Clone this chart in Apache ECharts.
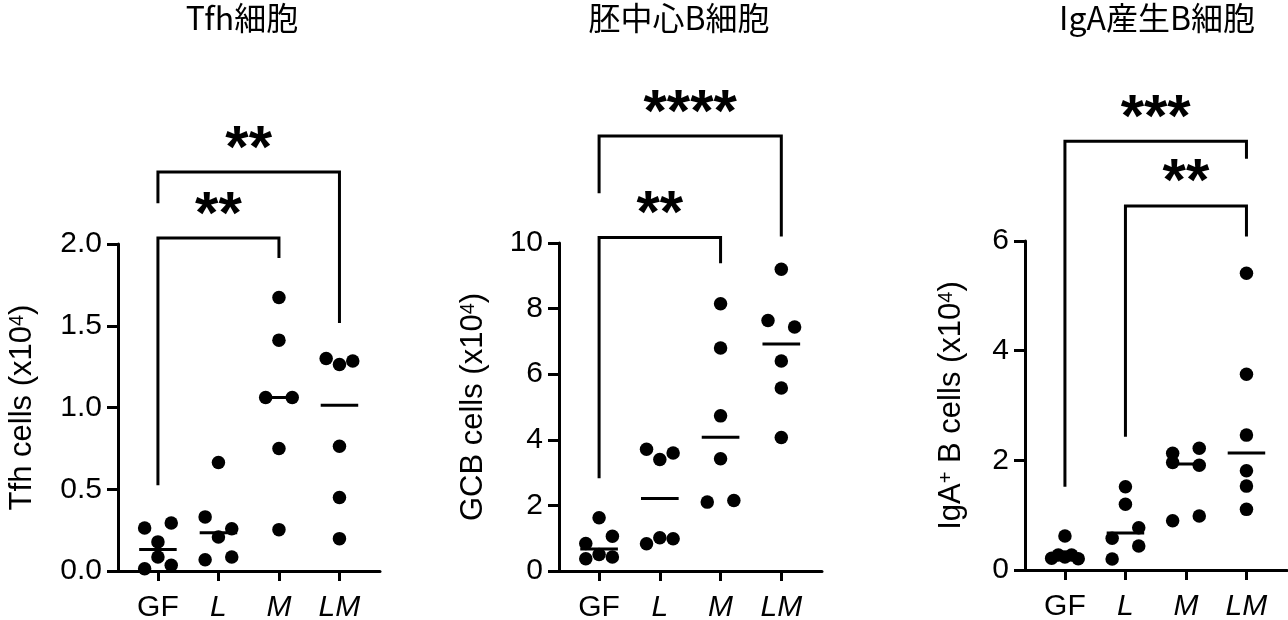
<!DOCTYPE html>
<html>
<head>
<meta charset="utf-8">
<script src="https://cdn.jsdelivr.net/npm/echarts@6/dist/echarts.min.js"></script>
<style>
  html, body { margin: 0; padding: 0; background: #fff; }
  #chart { width: 1288px; height: 620px; }
</style>
</head>
<body>
<div id="chart"></div>
<script>
// categories on the x axis
const categories = ["GF", "L", "M", "LM"];

// Tfh cells (x10^4)
const tfhGF = [0.263, 0.294, 0.178, 0.014, 0.086, 0.035];
const tfhL = [0.663, 0.331, 0.259, 0.208, 0.069, 0.086];
const tfhM = [1.673, 1.412, 1.061, 1.061, 0.749, 0.253];
const tfhLM = [1.300, 1.263, 1.284, 0.763, 0.449, 0.198];

// GCB cells (x10^4)
const gcbGF = [1.626, 0.84, 1.057, 0.376, 0.50, 0.427];
const gcbL = [3.71, 3.40, 3.60, 0.833, 1.016, 0.986];
const gcbM = [8.15, 6.80, 4.73, 3.42, 2.10, 2.15];
const gcbLM = [9.20, 7.64, 7.44, 6.40, 5.58, 4.07];

// IgA+ B cells (x10^4)
const igaGF = [0.62, 0.213, 0.274, 0.237, 0.274, 0.207];
const igaL = [1.52, 1.20, 0.578, 0.772, 0.20, 0.438];
const igaM = [2.13, 2.22, 1.96, 1.91, 0.90, 0.985];
const igaLM = [5.41, 3.57, 2.46, 1.81, 1.53, 1.106];

// y axis ranges / tick steps
const yMax = [2, 10, 6];
const yStep = [0.5, 2, 2];

// significance brackets: [fromCat, toCat, top, leftLegEnd, rightLegEnd] in data units
const tfhBrackets = [[1, 3, 2.036, 0.525, 1.915], [1, 4, 2.44, 2.25, 1.517]];
const tfhStars = ["**", "**"];
const gcbBrackets = [[1, 3, 10.17, 2.83, 9.38], [1, 4, 13.26, 11.52, 10.2]];
const gcbStars = ["**", "****"];
const igaBrackets = [[2, 4, 6.64, 2.43, 6.08], [1, 4, 7.82, 1.52, 7.5]];
const igaStars = ["**", "***"];

const titles = ["Tfh細胞", "胚中心B細胞", "IgA産生B細胞"];
const yNames = [
	"Tfh cells (x10{sup|4})",
	"GCB cells (x10{sup|4})",
	"IgA{sup|+} B cells (x10{sup|4})",
];

const panels = [
	{ groups: [tfhGF, tfhL, tfhM, tfhLM], brackets: tfhBrackets, stars: tfhStars },
	{ groups: [gcbGF, gcbL, gcbM, gcbLM], brackets: gcbBrackets, stars: gcbStars },
	{ groups: [igaGF, igaL, igaM, igaLM], brackets: igaBrackets, stars: igaStars },
];

// layout
const grids = [
	{ left: 118, top: 244, width: 262, height: 327 },
	{ left: 559, top: 243, width: 263, height: 328 },
	{ left: 1025, top: 241, width: 262, height: 329 },
];
const titleX = [242, 679, 1157];
const nameGaps = [80, 70, 58];
const X_MIN = 0.34;
const X_MAX = 4.67;
const DOT = 13.5;
const SPREAD = 13.3; // px between neighbouring dots in a row
const MED_HALF = 0.31;

const FONT = "Liberation Sans";
const CJK = "Noto Sans CJK JP";
const LABEL_SIZE = 30;

const median = (arr) => {
	const s = [...arr].sort((a, b) => a - b);
	const n = s.length;
	return n % 2 ? s[(n - 1) / 2] : (s[n / 2 - 1] + s[n / 2]) / 2;
};

// prism-like horizontal spread: points whose values are within one dot get put in a row
function swarm(values, pxPerY) {
	const order = values.map((v, i) => i).sort((a, b) => values[b] - values[a]);
	const rows = [];
	let cur = null;
	order.forEach((i) => {
		if (cur && (values[cur[0]] - values[i]) * pxPerY < SPREAD) cur.push(i);
		else {
			cur = [i];
			rows.push(cur);
		}
	});
	const off = new Array(values.length).fill(0);
	rows.forEach((row) => {
		row.sort((a, b) => a - b);
		const n = row.length;
		row.forEach((idx, k) => {
			if (n === 1) off[idx] = 0;
			else if (n <= 3) off[idx] = (k - (n - 1) / 2) * SPREAD * (n === 2 ? 2 : 1);
			else off[idx] = -SPREAD + (2 * SPREAD * k) / (n - 1);
		});
	});
	return off;
}

const textBase = { fontFamily: FONT, color: "#000" };
const axisLineStyle = { color: "#000", width: 3 };

const xAxes = [];
const yAxes = [];
const series = [];
const graphics = [];

panels.forEach((p, pi) => {
	const g = grids[pi];
	const pxPerX = g.width / (X_MAX - X_MIN);
	const pxPerY = g.height / yMax[pi];

	xAxes.push({
		gridIndex: pi,
		type: "value",
		min: X_MIN,
		max: X_MAX,
		splitLine: { show: false },
		axisLine: { show: true, onZero: false, lineStyle: axisLineStyle },
		axisTick: {
			show: true,
			customValues: [1, 2, 3, 4],
			length: 10,
			lineStyle: axisLineStyle,
		},
		axisLabel: {
			customValues: [1, 2, 3, 4],
			margin: 22,
			...textBase,
			fontSize: LABEL_SIZE,
			formatter: (v) => {
				const c = categories[Math.round(v) - 1];
				return c === "GF" ? `{n|${c}}` : `{i|${c}}`;
			},
			rich: {
				n: { ...textBase, fontSize: LABEL_SIZE },
				i: { ...textBase, fontSize: LABEL_SIZE, fontStyle: "italic" },
			},
		},
	});

	yAxes.push({
		gridIndex: pi,
		type: "value",
		min: 0,
		max: yMax[pi],
		interval: yStep[pi],
		name: yNames[pi],
		nameLocation: "middle",
		nameRotate: 90,
		nameGap: nameGaps[pi],
		nameTextStyle: {
			...textBase,
			fontSize: 31,
			rich: {
				sup: { ...textBase, fontSize: 20, verticalAlign: "top" },
			},
		},
		splitLine: { show: false },
		axisLine: { show: true, lineStyle: axisLineStyle },
		axisTick: { show: true, length: 11, lineStyle: axisLineStyle },
		axisLabel: {
			...textBase,
			fontSize: LABEL_SIZE,
			margin: 16,
			formatter: (v) => (pi === 0 ? v.toFixed(1) : String(v)),
		},
	});

	// dots
	const pts = [];
	p.groups.forEach((vals, ci) => {
		const off = swarm(vals, pxPerY);
		vals.forEach((v, k) => pts.push([ci + 1 + off[k] / pxPerX, v]));
	});
	series.push({
		type: "scatter",
		xAxisIndex: pi,
		yAxisIndex: pi,
		symbolSize: DOT,
		itemStyle: { color: "#000", opacity: 1 },
		data: pts,
		silent: true,
	});

	// median lines
	series.push({
		type: "custom",
		xAxisIndex: pi,
		yAxisIndex: pi,
		silent: true,
		data: p.groups.map((vals, ci) => [ci + 1, median(vals)]),
		renderItem: (params, api) => {
			const a = api.coord([api.value(0) - MED_HALF, api.value(1)]);
			const b = api.coord([api.value(0) + MED_HALF, api.value(1)]);
			return {
				type: "line",
				shape: { x1: a[0], y1: a[1], x2: b[0], y2: b[1] },
				style: { stroke: "#000", lineWidth: 3 },
			};
		},
	});

	// significance brackets
	series.push({
		type: "custom",
		xAxisIndex: pi,
		yAxisIndex: pi,
		silent: true,
		clip: false,
		data: p.brackets,
		renderItem: (params, api) => {
			const x1 = api.value(0);
			const x2 = api.value(1);
			const top = api.value(2);
			const a = api.coord([x1, api.value(3)]);
			const b = api.coord([x1, top]);
			const c = api.coord([x2, top]);
			const d = api.coord([x2, api.value(4)]);
			return {
				type: "group",
				children: [
					{
						type: "polyline",
						shape: { points: [a, b, c, d] },
						style: { stroke: "#000", lineWidth: 3, fill: null, lineJoin: "miter" },
					},
					{
						type: "text",
						style: {
							text: p.stars[params.dataIndex],
							x: (b[0] + c[0]) / 2,
							y: b[1] + 8,
							align: "center",
							verticalAlign: "bottom",
							font: `bold 60px "${FONT}"`,
							fill: "#000",
						},
					},
				],
			};
		},
	});

	graphics.push({
		type: "text",
		x: titleX[pi],
		y: 18,
		style: {
			text: titles[pi],
			align: "center",
			verticalAlign: "middle",
			font: `32px "${CJK}"`,
			fill: "#000",
		},
	});
});

const chart = echarts.init(document.getElementById("chart"), null, { renderer: "canvas" });
chart.setOption({
	animation: false,
	backgroundColor: "#fff",
	grid: grids.map((g) => ({ ...g, outerBoundsMode: "none" })),
	xAxis: xAxes,
	yAxis: yAxes,
	series: series,
	graphic: graphics,
});
</script>
</body>
</html>
